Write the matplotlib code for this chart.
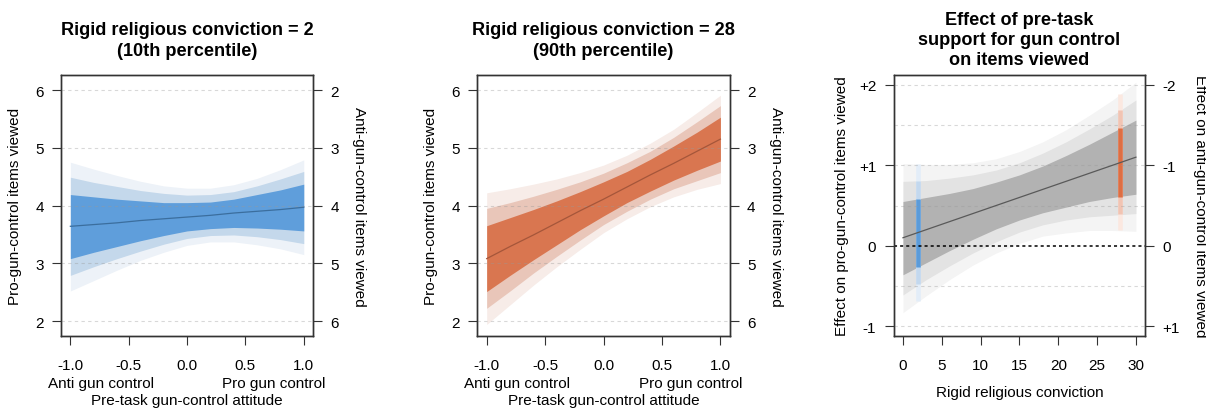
import numpy as np
import matplotlib
matplotlib.use("Agg")
import matplotlib.pyplot as plt
import matplotlib.transforms as mtransforms

plt.rcParams["font.family"] = ["Liberation Sans", "DejaVu Sans"]
plt.rcParams["axes.unicode_minus"] = False

# ── data ─────────────────────────────────────────────────────────────────────

# pre-task attitude grid (-1 = anti, +1 = pro gun control)
attitude = [-1.0, -0.8, -0.6, -0.4, -0.2, 0.0, 0.2, 0.4, 0.6, 0.8, 1.0]

# rigid religious conviction = 2 (10th percentile): fit + 80/95/99% bands
low_fit = [3.64, 3.67, 3.70, 3.74, 3.77, 3.80, 3.83, 3.87, 3.90, 3.93, 3.97]
low_80_hi = [4.19, 4.15, 4.11, 4.08, 4.05, 4.05, 4.06, 4.11, 4.19, 4.27, 4.37]
low_80_lo = [3.08, 3.19, 3.29, 3.39, 3.48, 3.56, 3.60, 3.62, 3.61, 3.59, 3.56]
low_95_hi = [4.49, 4.40, 4.33, 4.26, 4.21, 4.18, 4.19, 4.24, 4.34, 4.46, 4.59]
low_95_lo = [2.79, 2.94, 3.08, 3.21, 3.33, 3.43, 3.48, 3.49, 3.46, 3.41, 3.34]
low_99_hi = [4.75, 4.63, 4.52, 4.42, 4.34, 4.30, 4.30, 4.36, 4.47, 4.62, 4.79]
low_99_lo = [2.52, 2.70, 2.88, 3.05, 3.19, 3.31, 3.37, 3.37, 3.32, 3.25, 3.15]

# rigid religious conviction = 28 (90th percentile)
high_fit = [3.08, 3.29, 3.49, 3.70, 3.91, 4.11, 4.32, 4.53, 4.73, 4.94, 5.15]
high_80_hi = [3.65, 3.79, 3.93, 4.08, 4.24, 4.41, 4.59, 4.80, 5.03, 5.27, 5.53]
high_80_lo = [2.51, 2.79, 3.06, 3.32, 3.58, 3.82, 4.05, 4.25, 4.44, 4.61, 4.77]
high_95_hi = [3.95, 4.05, 4.16, 4.28, 4.41, 4.56, 4.74, 4.94, 5.18, 5.45, 5.73]
high_95_lo = [2.22, 2.52, 2.83, 3.12, 3.40, 3.67, 3.90, 4.11, 4.29, 4.43, 4.57]
high_99_hi = [4.22, 4.29, 4.37, 4.46, 4.57, 4.70, 4.87, 5.08, 5.32, 5.61, 5.91]
high_99_lo = [1.94, 2.28, 2.62, 2.94, 3.24, 3.53, 3.77, 3.98, 4.15, 4.28, 4.38]

# effect of attitude across conviction
conviction = [0, 3, 6, 9, 12, 15, 18, 21, 24, 27, 30]
eff_fit = [0.10, 0.20, 0.30, 0.40, 0.50, 0.60, 0.70, 0.80, 0.90, 1.00, 1.10]
eff_80_hi = [0.55, 0.60, 0.65, 0.71, 0.79, 0.88, 0.99, 1.12, 1.26, 1.41, 1.56]
eff_80_lo = [-0.36, -0.21, -0.06, 0.08, 0.21, 0.32, 0.41, 0.48, 0.55, 0.60, 0.64]
eff_95_hi = [0.80, 0.81, 0.84, 0.88, 0.94, 1.03, 1.15, 1.29, 1.45, 1.62, 1.81]
eff_95_lo = [-0.61, -0.42, -0.25, -0.09, 0.05, 0.17, 0.26, 0.32, 0.36, 0.38, 0.40]
eff_99_hi = [1.02, 1.01, 1.01, 1.03, 1.08, 1.17, 1.29, 1.44, 1.62, 1.81, 2.03]
eff_99_lo = [-0.83, -0.62, -0.42, -0.24, -0.09, 0.03, 0.12, 0.16, 0.19, 0.19, 0.18]

# simple slopes at the two highlighted conviction levels: (lo, hi) per band
marks = [2, 28]
mark_80 = [(-0.26, 0.58), (0.61, 1.46)]
mark_95 = [(-0.48, 0.81), (0.39, 1.68)]
mark_99 = [(-0.68, 1.01), (0.19, 1.88)]

att_ticks = [-1.0, -0.5, 0.0, 0.5, 1.0]
att_ticklabels = ["-1.0", "-0.5", "0.0", "0.5", "1.0"]
items_ticks = [2, 3, 4, 5, 6]
conv_ticks = [0, 5, 10, 15, 20, 25, 30]
eff_ticks = [-1, 0, 1, 2]
eff_ticklabels = ["-1", "0", "+1", "+2"]
eff_ticklabels_r = ["+1", "0", "-1", "-2"]

BLUE = ("#edf2f8", "#c4d8eb", "#5f9edb", "#3b6e9e")
ORANGE = ("#f7ece8", "#e9c6b9", "#d97650", "#a5563a")
GRAY = ("#f4f4f4", "#e3e3e3", "#b2b2b2", "#595959")
BAR_BLUE = ("#e3edf8", "#c3d8ee", "#5b9bd9")
BAR_ORANGE = ("#fbe8e0", "#f1c4b3", "#de6e43")
EDGE = "#333333"
GRID = (0.6, 0.6, 0.6, 0.38)
FS = 11
FS_TITLE = 13.1


def style_box(ax):
    for s in ax.spines.values():
        s.set_color(EDGE)
        s.set_linewidth(1.0)
    ax.tick_params(direction="out", length=6.5, width=0.8, color=EDGE,
                   labelsize=FS, pad=6)


def side_label(ax, x, text, rotation):
    ax.text(x, 0.5, text, transform=ax.transAxes, fontsize=FS,
            rotation=rotation, ha="center", va="center")


def add_right_axis(ax, lim, ticks, labels):
    ax2 = ax.twinx()
    ax2.set_ylim(*lim)
    ax2.set_yticks(ticks)
    ax2.set_yticklabels(labels)
    style_box(ax2)
    return ax2


def draw_bands(ax, x, bands, fit, colors):
    for (lo, hi), c in zip(bands, colors[:3]):
        ax.fill_between(x, lo, hi, color=c, lw=0, zorder=1)
    ax.plot(x, fit, color=colors[3], lw=0.9, zorder=4)


# ── attitude panels ──────────────────────────────────────────────────────────

def attitude_panel(fig, rect, title, bands, fit, colors):
    ax = fig.add_axes(rect)
    ax.set_xlim(-1.08, 1.08)
    ax.set_ylim(1.74, 6.26)
    for y in items_ticks:
        ax.axhline(y, color=GRID, lw=0.8, ls=(0, (3, 3)), zorder=3)
    draw_bands(ax, attitude, bands, fit, colors)
    ax.set_xticks(att_ticks)
    ax.set_xticklabels(att_ticklabels)
    ax.set_yticks(items_ticks)
    style_box(ax)
    ax.tick_params(axis="x", pad=9)
    side_label(ax, -0.183, "Pro-gun-control items viewed", 90)

    tr = mtransforms.blended_transform_factory(ax.transData, ax.transAxes)
    ax.text(-0.74, -0.180, "Anti gun control", transform=tr, fontsize=FS,
            ha="center", va="center")
    ax.text(0.745, -0.180, "Pro gun control", transform=tr, fontsize=FS,
            ha="center", va="center")
    ax.text(0.5, -0.245, "Pre-task gun-control attitude", transform=ax.transAxes,
            fontsize=FS, ha="center", va="center")
    ax.text(0.5, 1.135, title, transform=ax.transAxes, fontsize=FS_TITLE,
            fontweight="bold", ha="center", va="center", linespacing=1.3)

    add_right_axis(ax, (8 - 1.74, 8 - 6.26), items_ticks,
                   [str(t) for t in items_ticks])
    side_label(ax, 1.183, "Anti-gun-control items viewed", 270)
    return ax


# ── effect panel ─────────────────────────────────────────────────────────────

def effect_panel(fig, rect):
    ax = fig.add_axes(rect)
    ax.set_xlim(-1.2, 31.2)
    ax.set_ylim(-1.12, 2.12)
    for y in [-1, -0.5, 0.5, 1, 1.5, 2]:
        ax.axhline(y, color=GRID, lw=0.8, ls=(0, (3, 3)), zorder=3)
    bands = [(eff_99_lo, eff_99_hi), (eff_95_lo, eff_95_hi), (eff_80_lo, eff_80_hi)]
    for (lo, hi), c in zip(bands, GRAY[:3]):
        ax.fill_between(conviction, lo, hi, color=c, lw=0, zorder=1)

    for i, (x, cols) in enumerate(zip(marks, (BAR_BLUE, BAR_ORANGE))):
        for rng, c in zip((mark_99[i], mark_95[i], mark_80[i]), cols):
            ax.vlines(x, rng[0], rng[1], color=c, lw=3.3, zorder=2)

    ax.axhline(0, color="black", lw=1.1, ls=(0, (2, 2)), zorder=4)
    ax.plot(conviction, eff_fit, color=GRAY[3], lw=0.9, zorder=5)

    ax.set_xticks(conv_ticks)
    ax.set_yticks(eff_ticks)
    ax.set_yticklabels(eff_ticklabels)
    style_box(ax)
    ax.tick_params(axis="x", pad=9)
    side_label(ax, -0.205, "Effect on pro-gun-control items viewed", 90)
    ax.text(0.5, -0.215, "Rigid religious conviction", transform=ax.transAxes,
            fontsize=FS, ha="center", va="center")
    ax.text(0.5, 1.135, "Effect of pre-task\nsupport for gun control\non items viewed",
            transform=ax.transAxes, fontsize=FS_TITLE, fontweight="bold",
            ha="center", va="center", linespacing=1.24)

    add_right_axis(ax, (1.12, -2.12), [1, 0, -1, -2], eff_ticklabels_r)
    side_label(ax, 1.217, "Effect on anti-gun-control items viewed", 270)
    return ax


fig = plt.figure(figsize=(12.06, 4.10), dpi=100)
attitude_panel(fig, [0.0506, 0.178, 0.2090, 0.6366],
               "Rigid religious conviction = 2\n(10th percentile)",
               [(low_99_lo, low_99_hi), (low_95_lo, low_95_hi), (low_80_lo, low_80_hi)],
               low_fit, BLUE)
attitude_panel(fig, [0.3958, 0.178, 0.2093, 0.6366],
               "Rigid religious conviction = 28\n(90th percentile)",
               [(high_99_lo, high_99_hi), (high_95_lo, high_95_hi), (high_80_lo, high_80_hi)],
               high_fit, ORANGE)
effect_panel(fig, [0.7410, 0.178, 0.2086, 0.6366])

fig.savefig("out.png", dpi=100)
